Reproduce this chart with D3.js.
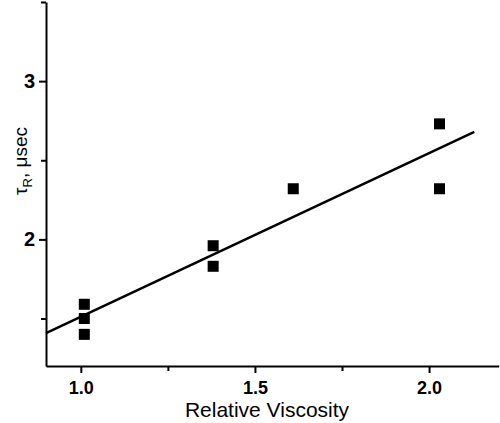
<!DOCTYPE html>
<html>
<head>
<meta charset="utf-8">
<script src="https://cdn.jsdelivr.net/npm/d3@7"></script>
<style>
  body { margin: 0; background: #fff; }
  svg { display: block; }
  text { font-family: Arial, "Liberation Sans", sans-serif; fill: #000; }
</style>
</head>
<body>
<svg id="chart" width="500" height="423"></svg>
<script>
// Data
const viscosity = [1.01, 1.01, 1.01, 1.38, 1.38, 1.61, 2.03, 2.03];
const tauR      = [1.59, 1.50, 1.40, 1.96, 1.83, 2.32, 2.73, 2.32];
const fitX = [0.9, 2.13];
const fitY = [1.408, 2.68];
const xMajorTicks = [1.0, 1.5, 2.0];
const xMinorTicks = [1.25, 1.75];
const yMajorTicks = [2, 3];
const yMinorTicks = [1.5, 2.5, 3.5];
const xTitle = "Relative Viscosity";

const svg = d3.select("#chart");
const x = d3.scaleLinear().domain([0.9, 2.2]).range([46, 498.7]);
const y = d3.scaleLinear().domain([1.2, 3.5]).range([366, 2]);

// Axes
const xAxis = d3.axisBottom(x).tickValues(xMajorTicks).tickFormat(d3.format(".1f"))
  .tickSizeInner(7).tickSizeOuter(0).tickPadding(8);
const gx = svg.append("g").attr("transform", `translate(0,${y.range()[0]})`).call(xAxis);
svg.append("g").attr("transform", `translate(0,${y.range()[0]})`)
  .call(d3.axisBottom(x).tickValues(xMinorTicks).tickFormat("").tickSizeInner(5).tickSizeOuter(0))
  .select(".domain").remove();

const yAxis = d3.axisLeft(y).tickValues(yMajorTicks).tickFormat(d3.format("d"))
  .tickSizeInner(7).tickSizeOuter(0).tickPadding(4);
const gy = svg.append("g").attr("transform", `translate(${x.range()[0]},0)`).call(yAxis);
svg.append("g").attr("transform", `translate(${x.range()[0]},0)`)
  .call(d3.axisLeft(y).tickValues(yMinorTicks).tickFormat("").tickSizeInner(5).tickSizeOuter(0))
  .select(".domain").remove();

svg.selectAll(".domain").attr("stroke", "#000").attr("stroke-width", 2);
svg.selectAll(".tick line").attr("stroke", "#000").attr("stroke-width", 2);
gx.selectAll(".tick text").attr("font-size", 18).attr("font-weight", "bold")
  .attr("font-family", "Arial, 'Liberation Sans', sans-serif");
gy.selectAll(".tick text").attr("font-size", 20).attr("font-weight", "bold")
  .attr("font-family", "Arial, 'Liberation Sans', sans-serif");

// Fit line
svg.append("line")
  .attr("x1", x(fitX[0])).attr("y1", y(fitY[0]))
  .attr("x2", x(fitX[1])).attr("y2", y(fitY[1]))
  .attr("stroke", "#000").attr("stroke-width", 2.5);

// Points
const s = 11;
svg.selectAll("rect.pt").data(viscosity.map((v, i) => [v, tauR[i]]))
  .enter().append("rect").attr("class", "pt")
  .attr("x", d => x(d[0]) - s / 2).attr("y", d => y(d[1]) - s / 2)
  .attr("width", s).attr("height", s).attr("fill", "#000");

// Titles
svg.append("text").attr("x", 267).attr("y", 417).attr("text-anchor", "middle")
  .attr("font-size", 21).text(xTitle);

const yt = svg.append("text").attr("transform", "translate(27,161) rotate(-90)")
  .attr("text-anchor", "middle").attr("font-size", 19);
yt.append("tspan").text("τ");
yt.append("tspan").attr("font-size", 13).attr("dy", 5).text("R");
yt.append("tspan").attr("dy", -5).text(", μsec");
</script>
</body>
</html>
